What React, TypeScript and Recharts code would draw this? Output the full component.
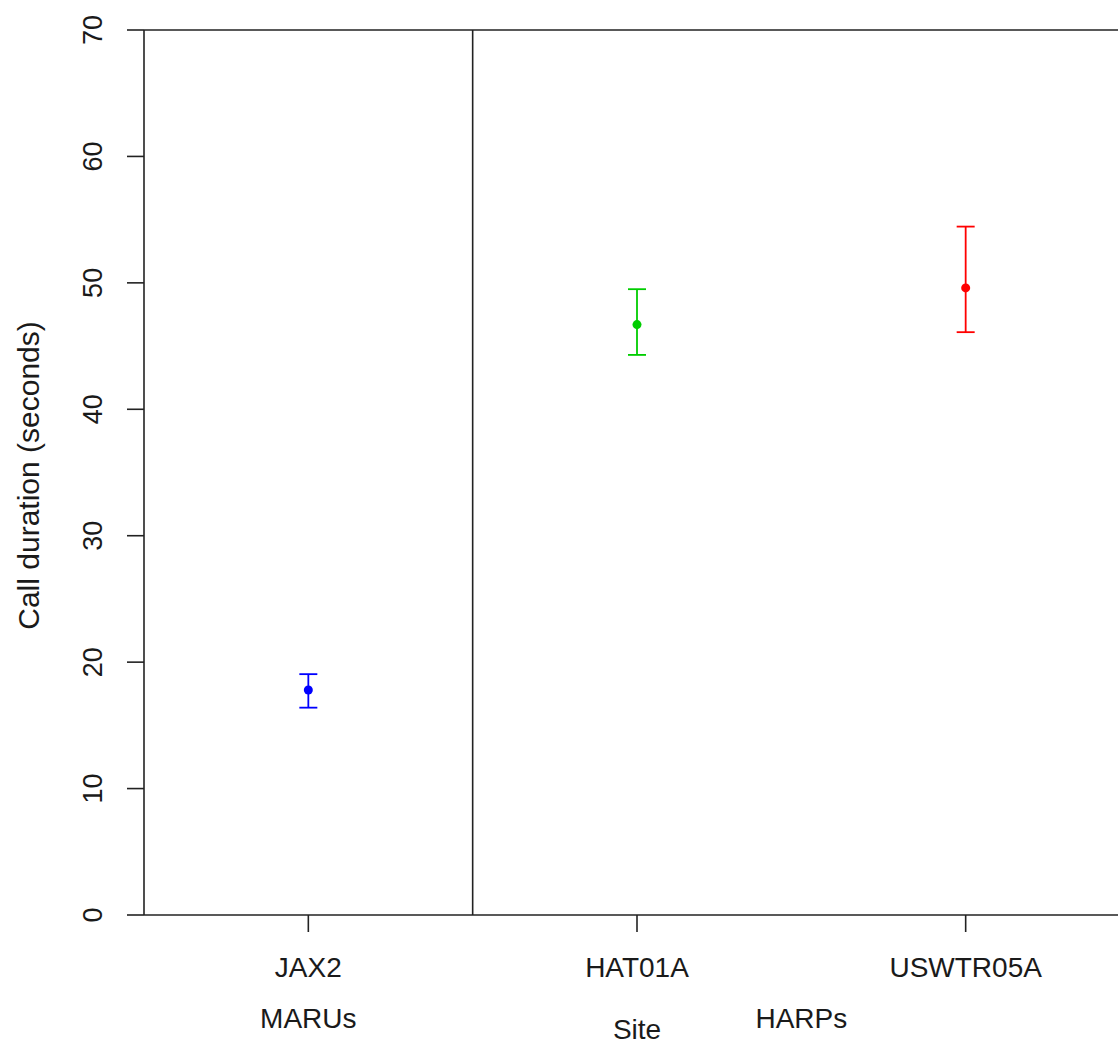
import { ScatterChart, Scatter, XAxis, YAxis, ErrorBar, ReferenceLine } from "recharts";

// call duration per recording site (seconds)
const sites = ["JAX2", "HAT01A", "USWTR05A"];
const means = [17.8, 46.7, 49.6];
const lowers = [16.4, 44.3, 46.1];
const uppers = [19.05, 49.5, 54.45];
const siteColors = ["#0000ff", "#00cd00", "#ff0000"];

// instrument groups under the site labels
const groups = ["MARUs", "HARPs"];
const groupCenters = [1, 2.5];

const yTicks = [0, 10, 20, 30, 40, 50, 60, 70];

const rows = sites.map((site, i) => ({
  x: i + 1,
  site,
  mean: means[i],
  err: [means[i] - lowers[i], uppers[i] - means[i]],
}));

const sitePositions = rows.map((r) => r.x);
const xTicks = Array.from(new Set([...sitePositions, ...groupCenters])).sort((a, b) => a - b);

const FONT = '"Liberation Sans", Arial, sans-serif';
const INK = "#1a1a1a";
const LINE = "#222222";
const TICK = 17;

// one tick renders the site mark + label and/or the group name below it
function SiteTick({ x, y, payload }: any) {
  const si = sitePositions.indexOf(payload.value);
  const gi = groupCenters.indexOf(payload.value);
  return (
    <g>
      {si >= 0 && <line x1={x} x2={x} y1={y - TICK} y2={y} stroke={LINE} strokeWidth={1.6} />}
      {si >= 0 && (
        <text x={x} y={y + 45} textAnchor="middle" fontFamily={FONT} fontSize={28} fill={INK}>
          {sites[si]}
        </text>
      )}
      {gi >= 0 && (
        <text x={x} y={y + 96} textAnchor="middle" fontFamily={FONT} fontSize={28} fill={INK}>
          {groups[gi]}
        </text>
      )}
    </g>
  );
}

function ValueTick({ x, y, payload }: any) {
  const cx = x - 34;
  return (
    <text
      x={cx}
      y={y}
      transform={`rotate(-90, ${cx}, ${y})`}
      textAnchor="middle"
      dominantBaseline="central"
      fontFamily={FONT}
      fontSize={27}
      fill={INK}
    >
      {payload.value}
    </text>
  );
}

function dot(color: string) {
  return (p: any) => <circle cx={p.cx} cy={p.cy} r={4.5} fill={color} />;
}

export default function App() {
  return (
    <div
      style={{
        position: "absolute",
        left: 0,
        top: 0,
        width: 1118,
        height: 1046,
        overflow: "hidden",
        background: "#fff",
      }}
    >
      <ScatterChart width={1130} height={1046} margin={{ top: 30, right: 0, bottom: 0, left: 0 }}>
        <XAxis
          xAxisId="site"
          type="number"
          dataKey="x"
          domain={[0.5, 3.5]}
          ticks={xTicks}
          tickSize={TICK}
          tickMargin={0}
          height={131}
          axisLine={{ stroke: LINE, strokeWidth: 1.6 }}
          tickLine={false}
          tick={<SiteTick />}
          label={{
            content: (props: any) => {
              const vb = props.viewBox;
              return (
                <text
                  x={vb.x + vb.width / 2}
                  y={vb.y + vb.height - 7}
                  textAnchor="middle"
                  fontFamily={FONT}
                  fontSize={28}
                  fill={INK}
                >
                  Site
                </text>
              );
            },
          }}
        />
        <YAxis
          type="number"
          dataKey="mean"
          domain={[0, 70]}
          ticks={yTicks}
          width={144}
          tickSize={TICK}
          tickMargin={0}
          axisLine={{ stroke: LINE, strokeWidth: 1.6 }}
          tickLine={{ stroke: LINE, strokeWidth: 1.6 }}
          tick={<ValueTick />}
          label={{
            content: (props: any) => {
              const vb = props.viewBox;
              const cx = vb.x + 28;
              const cy = vb.y + vb.height / 2 + 3;
              return (
                <text
                  x={cx}
                  y={cy}
                  transform={`rotate(-90, ${cx}, ${cy})`}
                  textAnchor="middle"
                  dominantBaseline="central"
                  fontFamily={FONT}
                  fontSize={30}
                  fill={INK}
                >
                  Call duration (seconds)
                </text>
              );
            },
          }}
        />
        <ReferenceLine xAxisId="site" y={70} stroke={LINE} strokeWidth={1.6} />
        <ReferenceLine xAxisId="site" x={1.5} stroke={LINE} strokeWidth={1.6} />
        <ReferenceLine xAxisId="site" x={3.5} stroke={LINE} strokeWidth={1.6} />
        {rows.map((row, i) => (
          <Scatter
            key={row.site}
            xAxisId="site"
            data={[row]}
            fill={siteColors[i]}
            shape={dot(siteColors[i])}
            isAnimationActive={false}
          >
            <ErrorBar
              dataKey="err"
              direction="y"
              width={9}
              stroke={siteColors[i]}
              strokeWidth={1.8}
              isAnimationActive={false}
            />
          </Scatter>
        ))}
      </ScatterChart>
    </div>
  );
}
